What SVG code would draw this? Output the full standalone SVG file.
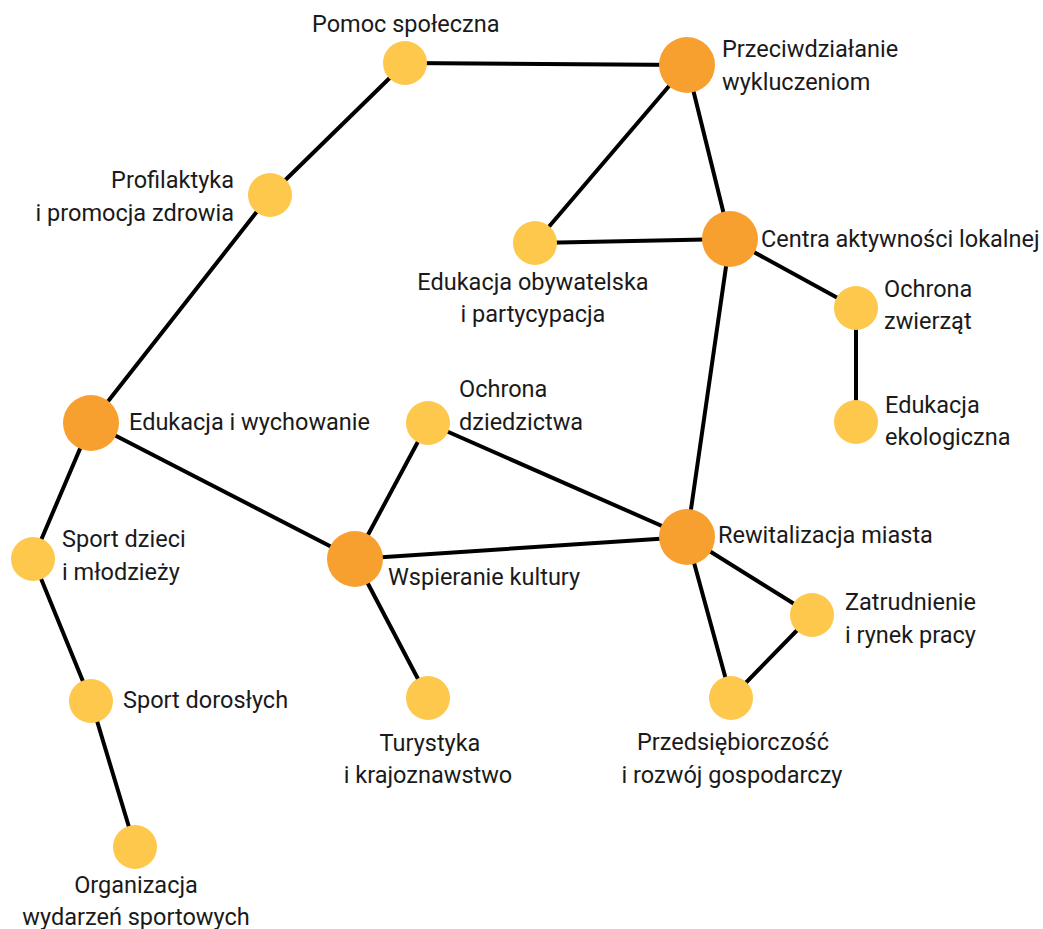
<svg xmlns="http://www.w3.org/2000/svg" width="1043" height="929" viewBox="0 0 1043 929">
<style>
.e{stroke:#000;stroke-width:4;fill:none;stroke-linecap:round}
.y{fill:#FDC84B}
.o{fill:#F8A02F}
text{font-family:Roboto,"Liberation Sans",sans-serif;font-size:23.5px;fill:#1a1a1a}
.m{text-anchor:middle}
.r{text-anchor:end}
</style>
<rect width="1043" height="929" fill="#fff"/>
<g id="connectors">
<line class="e" x1="405" y1="63" x2="687" y2="65"/>
<line class="e" x1="405" y1="63" x2="270" y2="195"/>
<line class="e" x1="270" y1="195" x2="91" y2="423"/>
<line class="e" x1="687" y1="65" x2="535" y2="243"/>
<line class="e" x1="687" y1="65" x2="730" y2="239"/>
<line class="e" x1="535" y1="243" x2="730" y2="239"/>
<line class="e" x1="730" y1="239" x2="856" y2="308"/>
<line class="e" x1="856" y1="308" x2="856" y2="422"/>
<line class="e" x1="730" y1="239" x2="687" y2="537"/>
<line class="e" x1="91" y1="423" x2="33" y2="559"/>
<line class="e" x1="91" y1="423" x2="355" y2="559"/>
<line class="e" x1="428" y1="423" x2="355" y2="559"/>
<line class="e" x1="428" y1="423" x2="687" y2="537"/>
<line class="e" x1="355" y1="559" x2="687" y2="537"/>
<line class="e" x1="355" y1="559" x2="428" y2="698"/>
<line class="e" x1="687" y1="537" x2="812" y2="615"/>
<line class="e" x1="687" y1="537" x2="731" y2="698"/>
<line class="e" x1="812" y1="615" x2="731" y2="698"/>
<line class="e" x1="33" y1="559" x2="91" y2="701"/>
<line class="e" x1="91" y1="701" x2="135" y2="847"/>
</g>
<g id="pomoc"><circle class="y" cx="405" cy="63" r="22"/><text x="312" y="32">Pomoc społeczna</text></g>
<g id="przeciwdzialanie"><circle class="o" cx="687" cy="65" r="28"/><text x="722" y="57">Przeciwdziałanie</text><text x="722" y="90">wykluczeniom</text></g>
<g id="profilaktyka"><circle class="y" cx="270" cy="195" r="22"/><text class="r" x="234" y="188">Profilaktyka</text><text class="r" x="234" y="221">i promocja zdrowia</text></g>
<g id="edukacja-obywatelska"><circle class="y" cx="535" cy="243" r="22"/><text class="m" x="533" y="290">Edukacja obywatelska</text><text class="m" x="533" y="322">i partycypacja</text></g>
<g id="centra"><circle class="o" cx="730" cy="239" r="28"/><text x="761" y="247">Centra aktywności lokalnej</text></g>
<g id="ochrona-zwierzat"><circle class="y" cx="856" cy="308" r="22"/><text x="884" y="297">Ochrona</text><text x="884" y="329">zwierząt</text></g>
<g id="edukacja-ekologiczna"><circle class="y" cx="856" cy="422" r="22"/><text x="885" y="413">Edukacja</text><text x="885" y="445">ekologiczna</text></g>
<g id="edukacja-wychowanie"><circle class="o" cx="91" cy="423" r="28"/><text x="129" y="430">Edukacja i wychowanie</text></g>
<g id="ochrona-dziedzictwa"><circle class="y" cx="428" cy="423" r="22"/><text x="459" y="397">Ochrona</text><text x="459" y="430">dziedzictwa</text></g>
<g id="rewitalizacja"><circle class="o" cx="687" cy="537" r="28"/><text x="718" y="543">Rewitalizacja miasta</text></g>
<g id="sport-dzieci"><circle class="y" cx="33" cy="559" r="22"/><text x="62" y="547">Sport dzieci</text><text x="62" y="580">i młodzieży</text></g>
<g id="wspieranie"><circle class="o" cx="355" cy="559" r="28"/><text x="388" y="585">Wspieranie kultury</text></g>
<g id="zatrudnienie"><circle class="y" cx="812" cy="615" r="22"/><text x="845" y="610">Zatrudnienie</text><text x="845" y="643">i rynek pracy</text></g>
<g id="sport-doroslych"><circle class="y" cx="91" cy="701" r="22"/><text x="123" y="708">Sport dorosłych</text></g>
<g id="turystyka"><circle class="y" cx="428" cy="698" r="22"/><text class="m" x="430" y="751">Turystyka</text><text class="m" x="428" y="783">i krajoznawstwo</text></g>
<g id="przedsiebiorczosc"><circle class="y" cx="731" cy="698" r="22"/><text class="m" x="733" y="750">Przedsiębiorczość</text><text class="m" x="732" y="783">i rozwój gospodarczy</text></g>
<g id="organizacja"><circle class="y" cx="135" cy="847" r="22"/><text class="m" x="136" y="893">Organizacja</text><text class="m" x="136" y="925">wydarzeń sportowych</text></g>
</svg>
